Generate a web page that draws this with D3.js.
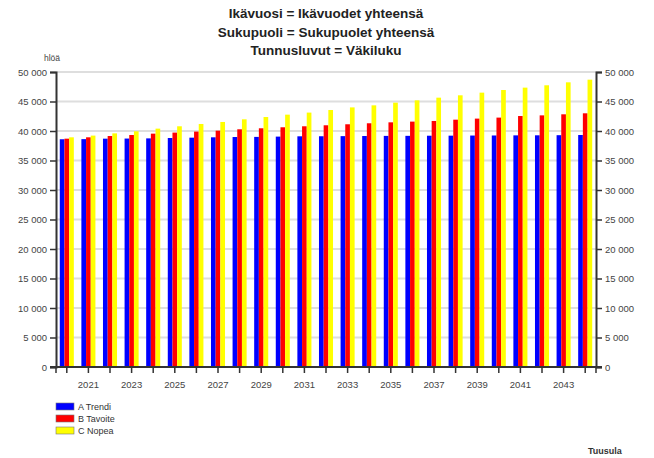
<!DOCTYPE html>
<html>
<head>
<meta charset="utf-8">
<script src="https://cdn.jsdelivr.net/npm/d3@7"></script>
<style>
  body { margin: 0; background: #fff; }
  svg { font-family: "Liberation Sans", Arial, sans-serif; }
</style>
</head>
<body>
<svg id="canvas"></svg>
<script>
let years = d3.range(2020, 2045)
let seriesNames = ["A Trendi", "B Tavoite", "C Nopea"]
let seriesColors = ["#0000ff", "#ff0000", "#ffff00"]

let trendi = [38600, 38620, 38700, 38720, 38750, 38810, 38870, 38930, 38980, 39000,
    39050, 39100, 39110, 39130, 39150, 39170, 39180, 39200, 39210, 39230,
    39240, 39260, 39270, 39290, 39320]
let tavoite = [38700, 38930, 39150, 39320, 39550, 39730, 39900, 40060, 40290, 40460,
    40630, 40800, 40970, 41140, 41310, 41470, 41590, 41700, 41920, 42100,
    42270, 42540, 42650, 42830, 43000]
let nopea = [38930, 39220, 39600, 39950, 40400, 40800, 41190, 41530, 41980, 42370,
    42770, 43120, 43560, 44000, 44350, 44800, 45200, 45650, 46050, 46500,
    46950, 47350, 47750, 48250, 48700]

let titleLines = ["Ikävuosi = Ikävuodet yhteensä", "Sukupuoli = Sukupuolet yhteensä", "Tunnusluvut = Väkiluku"]
let yTicks = d3.range(0, 50001, 5000)

const width = 654, height = 458
const margin = {left: 56, right: 58, top: 72, bottom: 91}

let svg = d3.select("#canvas").attr("width", width).attr("height", height)

let x0 = d3.scaleBand().domain(years)
    .range([margin.left, width - margin.right])
    .paddingInner(0.35).paddingOuter(0.175)
let x1 = d3.scaleBand().domain(d3.range(3)).range([0, x0.bandwidth()])
let y = d3.scaleLinear().domain([0, 50000]).range([height - margin.bottom, margin.top])

let fmt = v => d3.format(",")(v).replace(/,/g, " ")

// title
svg.append("g").selectAll("text").data(titleLines).enter().append("text")
    .attr("x", 326).attr("y", (d, i) => 18 + i * 18.5)
    .attr("text-anchor", "middle")
    .attr("font-size", 13.5).attr("font-weight", "bold").attr("fill", "#222")
    .text(d => d)

// grid
svg.append("g").selectAll("line").data(yTicks.filter(d => d > 0)).enter().append("line")
    .attr("x1", margin.left).attr("x2", width - margin.right)
    .attr("y1", d => y(d)).attr("y2", d => y(d))
    .attr("stroke", "#dedede").attr("stroke-width", 2)

// bars
let allSeries = [trendi, tavoite, nopea]
let groups = svg.append("g").selectAll("g").data(years).enter().append("g")
    .attr("transform", d => `translate(${x0(d)},0)`)
groups.selectAll("rect").data((d, i) => allSeries.map((s, k) => ({k: k, v: s[i]}))).enter()
    .append("rect")
    .attr("x", d => x1(d.k)).attr("width", x1.bandwidth())
    .attr("y", d => y(d.v)).attr("height", d => y(0) - y(d.v))
    .attr("fill", d => seriesColors[d.k])

// axes
let axisColor = "#333"
let leftAxis = svg.append("g").attr("transform", `translate(${margin.left},0)`)
    .call(d3.axisLeft(y).tickValues(yTicks).tickFormat(fmt).tickSize(6).tickPadding(3))
let rightAxis = svg.append("g").attr("transform", `translate(${width - margin.right},0)`)
    .call(d3.axisRight(y).tickValues(yTicks).tickFormat(fmt).tickSize(6).tickPadding(3))
let bottomAxis = svg.append("g").attr("transform", `translate(0,${y(0)})`)
    .call(d3.axisBottom(x0).tickFormat(d => d % 2 === 1 ? d : "").tickSize(6).tickPadding(8))

for (let a of [leftAxis, rightAxis, bottomAxis]) {
    a.select(".domain").attr("stroke", axisColor).attr("stroke-width", 2)
    a.selectAll(".tick line").attr("stroke", axisColor).attr("stroke-width", 1.5)
    a.selectAll("text").attr("fill", "#444").attr("font-size", 9.5)
        .attr("font-family", "\"Liberation Sans\", Arial, sans-serif")
}
bottomAxis.select(".domain").attr("d", `M${margin.left - 6},0H${width - margin.right + 6}`)
// end ticks on x axis
bottomAxis.selectAll(".endtick").data([margin.left, width - margin.right]).enter().append("line")
    .attr("x1", d => d).attr("x2", d => d).attr("y1", 0).attr("y2", 6)
    .attr("stroke", axisColor).attr("stroke-width", 1.5)

svg.append("text").attr("x", 44).attr("y", 61)
    .attr("font-size", 8.5).attr("fill", "#444").text("hlöä")

// legend
let legend = svg.append("g").selectAll("g").data(seriesNames).enter().append("g")
    .attr("transform", (d, i) => `translate(56,${403 + i * 12})`)
legend.append("rect").attr("width", 18).attr("height", 7)
    .attr("fill", (d, i) => seriesColors[i]).attr("stroke", "#777").attr("stroke-width", 0.6)
legend.append("text").attr("x", 22).attr("y", 7)
    .attr("font-size", 9).attr("fill", "#333").text(d => d)

svg.append("text").attr("x", 588).attr("y", 454)
    .attr("font-size", 9).attr("font-weight", "bold").attr("fill", "#333").text("Tuusula")
</script>
</body>
</html>
